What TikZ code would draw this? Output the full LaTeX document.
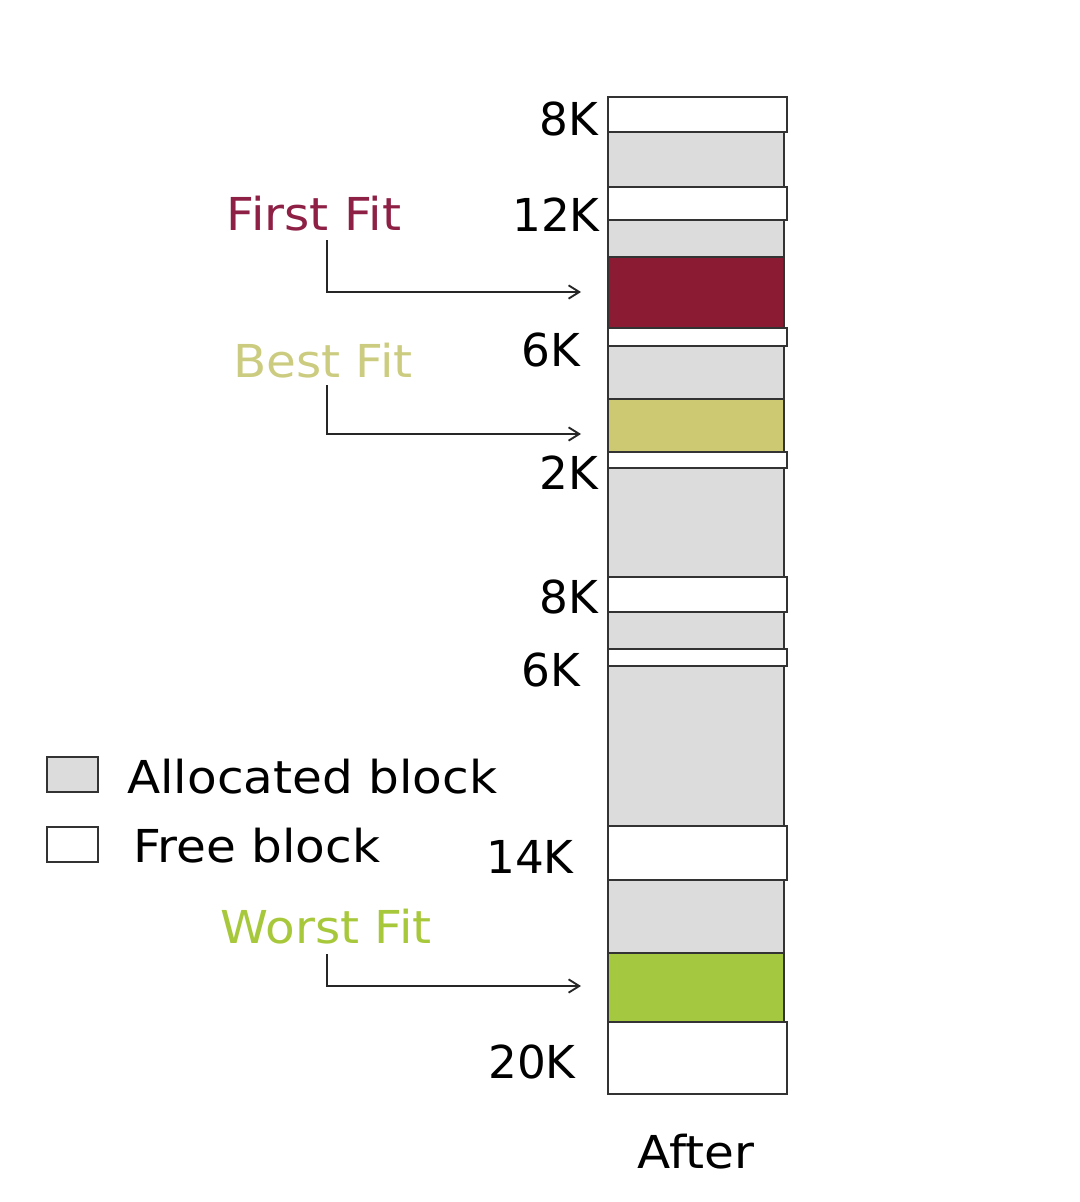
\documentclass[tikz,border=0pt]{standalone}
\usepackage{fontspec}
\setmainfont{DejaVu Sans}
\newfontfamily\widefont[FakeStretch=1.07]{DejaVu Sans}
\usetikzlibrary{arrows.meta}
\definecolor{allocgray}{HTML}{DCDCDC}
\definecolor{edgegray}{HTML}{333333}
\definecolor{ffred}{HTML}{8B1A33}
\definecolor{fftext}{HTML}{8E1F45}
\definecolor{bfyellow}{HTML}{CCC972}
\definecolor{bftext}{HTML}{CCCC80}
\definecolor{wfgreen}{HTML}{A4C83F}
\definecolor{wftext}{HTML}{A8C83C}
\tikzset{
  memblock/.style={draw=edgegray, line width=1.5pt},
  alloc/.style={memblock, fill=allocgray},
  free/.style={memblock, fill=white},
  lbl/.style={inner sep=0pt, font=\fontsize{34}{40}\selectfont, text=black},
  widelbl/.style={inner sep=0pt, font=\widefont\fontsize{34}{40}\selectfont},
  arr/.style={draw=black!85, line width=1.2pt, -{Straight Barb[length=8pt,width=10pt,line width=1.4pt]}}
}
\begin{document}
\begin{tikzpicture}[x=0.75pt,y=-0.75pt]
\useasboundingbox (0,0) rectangle (1080,1202);
% memory column
\draw[free]  (608,97)  rectangle (787,132);
\draw[alloc] (608,132) rectangle (784,187);
\draw[free]  (608,187) rectangle (787,220);
\draw[alloc] (608,220) rectangle (784,257);
\draw[memblock, fill=ffred] (608,257) rectangle (784,328);
\draw[free]  (608,328) rectangle (787,346);
\draw[alloc] (608,346) rectangle (784,399);
\draw[memblock, fill=bfyellow] (608,399) rectangle (784,452);
\draw[free]  (608,452) rectangle (787,468);
\draw[alloc] (608,468) rectangle (784,577);
\draw[free]  (608,577) rectangle (787,612);
\draw[alloc] (608,612) rectangle (784,649);
\draw[free]  (608,649) rectangle (787,666);
\draw[alloc] (608,666) rectangle (784,826);
\draw[free]  (608,826) rectangle (787,880);
\draw[alloc] (608,880) rectangle (784,953);
\draw[memblock, fill=wfgreen] (608,953) rectangle (784,1022);
\draw[free]  (608,1022) rectangle (787,1094);
% size labels
\node[lbl, anchor=east] (l8a)  at (598,119)  {8K};
\node[lbl, anchor=east] (l12)  at (600,215)  {12K};
\node[lbl, anchor=east] (l6a)  at (580,350)  {6K};
\node[lbl, anchor=east] (l2)   at (598,473)  {2K};
\node[lbl, anchor=east] (l8b)  at (598,597)  {8K};
\node[lbl, anchor=east] (l6b)  at (580,670)  {6K};
\node[lbl, anchor=east] (l14)  at (574,857)  {14K};
\node[lbl, anchor=east] (l20)  at (576,1062) {20K};
\node[widelbl] (after) at (696,1152) {After};
% fit labels and arrows
\node[widelbl, text=fftext] (ff) at (314,214) {First Fit};
\node[widelbl, text=bftext] (bf) at (323,361) {Best Fit};
\node[widelbl, text=wftext] (wf) at (326,927) {Worst Fit};
\coordinate (ffs) at (327,240);
\coordinate (ffe) at (581,292);
\coordinate (bfs) at (327,385);
\coordinate (bfe) at (581,434);
\coordinate (wfs) at (327,954);
\coordinate (wfe) at (581,986);
\draw[arr] (ffs) |- (ffe);
\draw[arr] (bfs) |- (bfe);
\draw[arr] (wfs) |- (wfe);
% legend
\draw[alloc] (47,757) rectangle (98,792);
\draw[free]  (47,827) rectangle (98,862);
\node[widelbl, anchor=west] (lega) at (127,777) {Allocated block};
\node[widelbl, anchor=west] (legf) at (133,846) {Free block};
\end{tikzpicture}
\end{document}
